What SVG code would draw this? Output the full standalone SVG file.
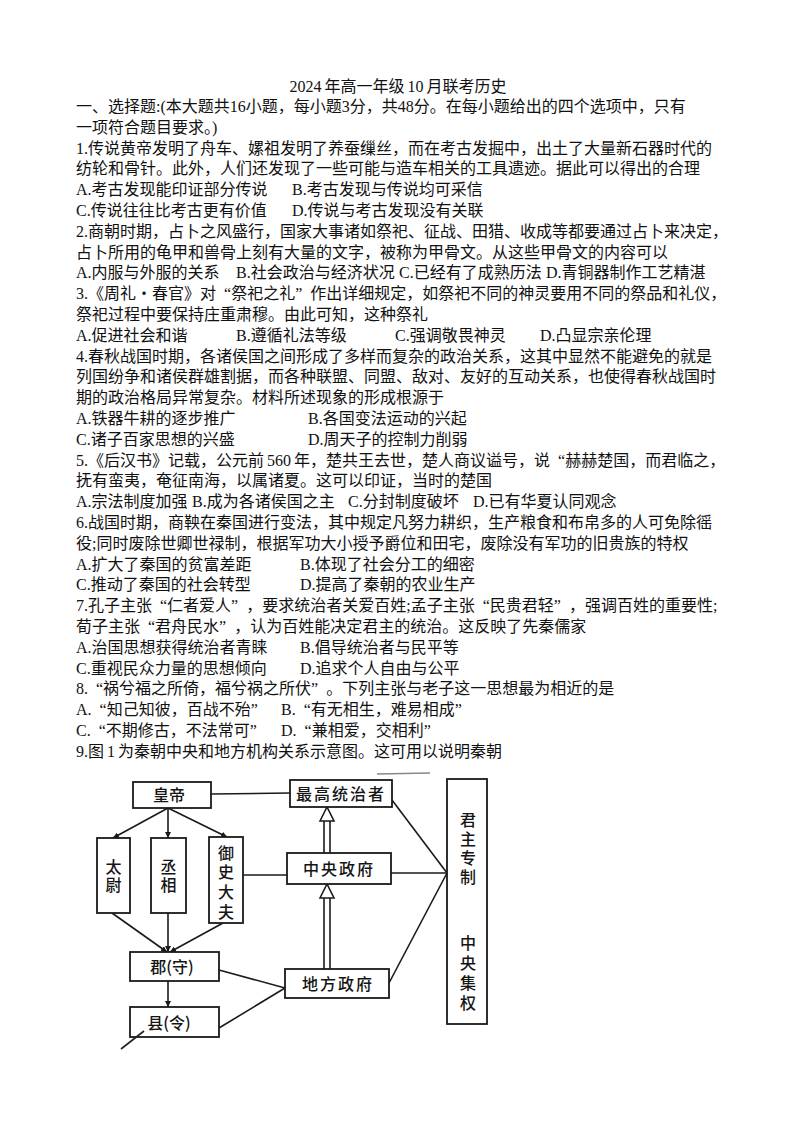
<svg xmlns="http://www.w3.org/2000/svg" width="794" height="1123" viewBox="0 0 794 1123">
<style>
.t{font-family:'Liberation Serif','Noto Sans CJK SC',serif;font-size:16px;fill:#111}
.q{font-family:'Noto Sans CJK SC',sans-serif}
.box{fill:#fff;stroke:#1a1a1a;stroke-width:1.8}
.nt{font-family:'Noto Sans CJK SC',sans-serif;font-size:16px;font-weight:500;fill:#151515;text-anchor:middle}
.vt{font-family:'Noto Sans CJK SC',sans-serif;font-size:16px;font-weight:500;fill:#151515;text-anchor:middle;writing-mode:vertical-rl}
.ln{stroke:#1a1a1a;stroke-width:1.6;fill:none}
.ar{stroke:#1a1a1a;stroke-width:1.6;fill:none;marker-end:url(#ah)}
.ha{fill:#fff;stroke:#1a1a1a;stroke-width:1.6}
</style>
<defs>
<marker id="ah" viewBox="0 0 10 10" refX="10" refY="5" markerWidth="6" markerHeight="6" markerUnits="userSpaceOnUse" orient="auto">
<path d="M0,0 L10,5 L0,10 Z" fill="#1a1a1a"/>
</marker>
</defs>
<rect width="794" height="1123" fill="#fff"/>

<g id="text">
<text class="t" x="398" y="92" text-anchor="middle">2024<tspan dx="3">年高一年级</tspan><tspan dx="3">10</tspan><tspan dx="3">月联考历史</tspan></text>
<text class="t" x="76" y="112">一、选择题:(本大题共16小题，每小题3分，共48分。在每小题给出的四个选项中，只有</text>
<text class="t" x="76" y="132.8">一项符合题目要求。)</text>
<text class="t" x="76" y="153.6">1.传说黄帝发明了舟车、嫘祖发明了养蚕缫丝，而在考古发掘中，出土了大量新石器时代的</text>
<text class="t" x="76" y="174.4">纺轮和骨针。此外，人们还发现了一些可能与造车相关的工具遗迹。据此可以得出的合理</text>
<text class="t" y="195.2"><tspan x="76">A.考古发现能印证部分传说</tspan><tspan x="292">B.考古发现与传说均可采信</tspan></text>
<text class="t" y="216"><tspan x="76">C.传说往往比考古更有价值</tspan><tspan x="292">D.传说与考古发现没有关联</tspan></text>
<text class="t" x="76" y="236.8">2.商朝时期，占卜之风盛行，国家大事诸如祭祀、征战、田猎、收成等都要通过占卜来决定，</text>
<text class="t" x="76" y="257.6">占卜所用的龟甲和兽骨上刻有大量的文字，被称为甲骨文。从这些甲骨文的内容可以</text>
<text class="t" y="278.4"><tspan x="76">A.内服与外服的关系</tspan><tspan x="236">B.社会政治与经济状况</tspan><tspan x="399">C.已经有了成熟历法</tspan><tspan x="546">D.青铜器制作工艺精湛</tspan></text>
<text class="t" x="76" y="299.2">3.《周礼<tspan class="q">·</tspan>春官》对<tspan dx="8">“祭祀之礼”</tspan><tspan dx="8">作出详细规定，如祭祀不同的神灵要用不同的祭品和礼仪，</tspan></text>
<text class="t" x="76" y="320">祭祀过程中要保持庄重肃穆。由此可知，这种祭礼</text>
<text class="t" y="340.8"><tspan x="76">A.促进社会和谐</tspan><tspan x="236">B.遵循礼法等级</tspan><tspan x="395">C.强调敬畏神灵</tspan><tspan x="540">D.凸显宗亲伦理</tspan></text>
<text class="t" x="76" y="361.6">4.春秋战国时期，各诸侯国之间形成了多样而复杂的政治关系，这其中显然不能避免的就是</text>
<text class="t" x="76" y="382.4">列国纷争和诸侯群雄割据，而各种联盟、同盟、敌对、友好的互动关系，也使得春秋战国时</text>
<text class="t" x="76" y="403.2">期的政治格局异常复杂。材料所述现象的形成根源于</text>
<text class="t" y="424"><tspan x="76">A.铁器牛耕的逐步推广</tspan><tspan x="308">B.各国变法运动的兴起</tspan></text>
<text class="t" y="444.8"><tspan x="76">C.诸子百家思想的兴盛</tspan><tspan x="308">D.周天子的控制力削弱</tspan></text>
<text class="t" x="76" y="465.6">5.《后汉书》记载，公元前<tspan dx="3">560</tspan><tspan dx="3">年，楚共王去世，楚人商议谥号，说</tspan><tspan dx="8">“赫赫楚国，而君临之，</tspan></text>
<text class="t" x="76" y="486.4">抚有蛮夷，奄征南海，以属诸夏。这可以印证，当时的楚国</text>
<text class="t" y="507.2"><tspan x="76">A.宗法制度加强</tspan><tspan x="192">B.成为各诸侯国之主</tspan><tspan x="348">C.分封制度破坏</tspan><tspan x="473">D.已有华夏认同观念</tspan></text>
<text class="t" x="76" y="528">6.战国时期，商鞅在秦国进行变法，其中规定凡努力耕织，生产粮食和布帛多的人可免除徭</text>
<text class="t" x="76" y="548.8">役;同时废除世卿世禄制，根据军功大小授予爵位和田宅，废除没有军功的旧贵族的特权</text>
<text class="t" y="569.6"><tspan x="76">A.扩大了秦国的贫富差距</tspan><tspan x="300">B.体现了社会分工的细密</tspan></text>
<text class="t" y="590.4"><tspan x="76">C.推动了秦国的社会转型</tspan><tspan x="300">D.提高了秦朝的农业生产</tspan></text>
<text class="t" x="76" y="611.2">7.孔子主张<tspan dx="8">“仁者爱人”</tspan><tspan dx="8">，要求统治者关爱百姓;孟子主张</tspan><tspan dx="8">“民贵君轻”</tspan><tspan dx="8">，强调百姓的重要性;</tspan></text>
<text class="t" x="76" y="632">荀子主张<tspan dx="8">“君舟民水”</tspan><tspan dx="8">，认为百姓能决定君主的统治。这反映了先秦儒家</tspan></text>
<text class="t" y="652.8"><tspan x="76">A.治国思想获得统治者青睐</tspan><tspan x="300">B.倡导统治者与民平等</tspan></text>
<text class="t" y="673.6"><tspan x="76">C.重视民众力量的思想倾向</tspan><tspan x="300">D.追求个人自由与公平</tspan></text>
<text class="t" x="76" y="694.4">8.<tspan dx="8">“祸兮福之所倚，福兮祸之所伏”</tspan><tspan dx="8">。下列主张与老子这一思想最为相近的是</tspan></text>
<text class="t" x="76" y="715.2">A.<tspan dx="8">“知己知彼，百战不殆”</tspan><tspan x="281">B.</tspan><tspan dx="8">“有无相生，难易相成”</tspan></text>
<text class="t" x="76" y="736">C.<tspan dx="8">“不期修古，不法常可”</tspan><tspan x="281">D.</tspan><tspan dx="8">“兼相爱，交相利”</tspan></text>
<text class="t" x="76" y="756.8">9.图<tspan dx="3">1</tspan><tspan dx="3">为秦朝中央和地方机构关系示意图。这可用以说明秦朝</tspan></text>
</g>

<g id="connectors">
<line class="ar" x1="168" y1="808" x2="113" y2="838"/>
<line class="ar" x1="168" y1="808" x2="168" y2="838"/>
<line class="ar" x1="168" y1="808" x2="227" y2="837"/>
<line class="ar" x1="112" y1="913" x2="167" y2="952"/>
<line class="ar" x1="168" y1="913" x2="168" y2="952"/>
<line class="ar" x1="223" y1="923" x2="170" y2="952"/>
<line class="ar" x1="168" y1="981" x2="168" y2="1007"/>
<line class="ln" x1="211" y1="794" x2="290" y2="793"/>
<line class="ln" x1="243" y1="875" x2="287" y2="875"/>
<line class="ln" x1="219" y1="970" x2="285" y2="988"/>
<line class="ln" x1="219" y1="1028" x2="285" y2="988"/>
<line class="ln" x1="392" y1="800" x2="447" y2="873"/>
<line class="ln" x1="391" y1="873" x2="447" y2="873"/>
<line class="ln" x1="389" y1="983" x2="447" y2="873"/>
<g id="hollow1">
<line class="ln" x1="324" y1="821" x2="324" y2="853"/>
<line class="ln" x1="330" y1="821" x2="330" y2="853"/>
<path class="ha" d="M320,821 L327,807 L334,821 Z"/>
</g>
<g id="hollow2">
<line class="ln" x1="324" y1="898" x2="324" y2="969"/>
<line class="ln" x1="330" y1="898" x2="330" y2="969"/>
<path class="ha" d="M320,898 L327,884 L334,898 Z"/>
</g>
</g>

<g id="huangdi"><rect class="box" x="133" y="782" width="78" height="26"/><text class="nt" x="169" y="800.5" font-size="15">皇帝</text></g>
<g id="taiwei"><rect class="box" x="97" y="838" width="33" height="75"/><text class="vt" x="113.5" y="877" letter-spacing="2">太尉</text></g>
<g id="chengxiang"><rect class="box" x="151" y="838" width="35" height="75"/><text class="vt" x="168.5" y="877" letter-spacing="2">丞相</text></g>
<g id="yushidafu"><rect class="box" x="209" y="837" width="34" height="86"/><text class="vt" x="226" y="884" letter-spacing="3.6">御史大夫</text></g>
<g id="jun"><rect class="box" x="130" y="952" width="89" height="29"/><text class="nt" x="172" y="973">郡(守)</text></g>
<g id="xian"><rect class="box" x="130" y="1007" width="89" height="30"/><text class="nt" x="169" y="1029">县(令)</text></g>
<g id="zuigao"><rect class="box" x="290" y="780" width="102" height="27"/><text class="nt" x="341" y="800" letter-spacing="2">最高统治者</text></g>
<g id="zhongyang"><rect class="box" x="287" y="853" width="104" height="31"/><text class="nt" x="339" y="875" letter-spacing="2">中央政府</text></g>
<g id="difang"><rect class="box" x="285" y="969" width="104" height="29"/><text class="nt" x="338" y="990" letter-spacing="2">地方政府</text></g>
<g id="junzhu"><rect class="box" x="447" y="779" width="40" height="245"/>
<text class="vt" x="468" y="850" letter-spacing="3">君主专制</text>
<text class="vt" x="468" y="975" letter-spacing="4">中央集权</text></g>

<g id="marks">
<line x1="377" y1="774" x2="430" y2="773" stroke="#555" stroke-width="1.5" opacity="0.7"/>
<line x1="121" y1="1049" x2="144" y2="1031" stroke="#222" stroke-width="1.6"/>
</g>
</svg>
